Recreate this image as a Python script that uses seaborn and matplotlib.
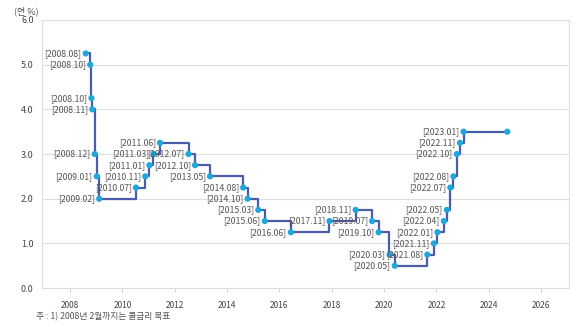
import matplotlib
matplotlib.use("Agg")
import matplotlib.pyplot as plt
import seaborn as sns
import pandas as pd
import numpy as np

# Data: Bank of Korea base rate decisions
dates = ["2008-08-07", "2008-10-09", "2008-10-27", "2008-11-07", "2008-12-11",
         "2009-01-09", "2009-02-12", "2010-07-09", "2010-11-16", "2011-01-13",
         "2011-03-10", "2011-06-10", "2012-07-12", "2012-10-11", "2013-05-09",
         "2014-08-14", "2014-10-15", "2015-03-12", "2015-06-11", "2016-06-09",
         "2017-11-30", "2018-11-30", "2019-07-18", "2019-10-16", "2020-03-16",
         "2020-05-28", "2021-08-26", "2021-11-25", "2022-01-14", "2022-04-14",
         "2022-05-26", "2022-07-13", "2022-08-25", "2022-10-12", "2022-11-24",
         "2023-01-13", "2024-09-15"]
rates = [5.25, 5.00, 4.25, 4.00, 3.00, 2.50, 2.00, 2.25, 2.50, 2.75,
         3.00, 3.25, 3.00, 2.75, 2.50, 2.25, 2.00, 1.75, 1.50, 1.25,
         1.50, 1.75, 1.50, 1.25, 0.75, 0.50, 0.75, 1.00, 1.25, 1.50,
         1.75, 2.25, 2.50, 3.00, 3.25, 3.50, 3.50]
point_labels = ["[2008.08]", "[2008.10]", "[2008.10]", "[2008.11]", "[2008.12]",
                "[2009.01]", "[2009.02]", "[2010.07]", "[2010.11]", "[2011.01]",
                "[2011.03]", "[2011.06]", "[2012.07]", "[2012.10]", "[2013.05]",
                "[2014.08]", "[2014.10]", "[2015.03]", "[2015.06]", "[2016.06]",
                "[2017.11]", "[2018.11]", "[2019.07]", "[2019.10]", "[2020.03]",
                "[2020.05]", "[2021.08]", "[2021.11]", "[2022.01]", "[2022.04]",
                "[2022.05]", "[2022.07]", "[2022.08]", "[2022.10]", "[2022.11]",
                "[2023.01]", ""]
y_ticks = [0.0, 1.0, 2.0, 3.0, 4.0, 5.0, 6.0]
x_ticks = [2008, 2010, 2012, 2014, 2016, 2018, 2020, 2022, 2024, 2026]

def to_year(s):
    t = pd.Timestamp(s)
    start = pd.Timestamp(year=t.year, month=1, day=1)
    end = pd.Timestamp(year=t.year + 1, month=1, day=1)
    return t.year + (t - start) / (end - start)

df = pd.DataFrame({"year": [to_year(d) for d in dates], "rate": rates,
                   "label": point_labels})

sns.set_theme(style="white")
plt.rcParams['font.family'] = ['Noto Sans CJK KR', 'DejaVu Sans']

fig = plt.figure(figsize=(5.8, 3.27), dpi=100)
ax = fig.add_axes([0.0724, 0.119, 0.909, 0.820])

line_color = "#4b5cab"
dot_color = "#1fa6dc"
sns.lineplot(data=df, x="year", y="rate", ax=ax, color=line_color,
             drawstyle="steps-post", linewidth=1.6, zorder=2)
sns.scatterplot(data=df, x="year", y="rate", ax=ax, color=dot_color,
                s=20, edgecolor="none", zorder=3)

for _, r in df.iterrows():
    if r["label"]:
        ax.annotate(r["label"], (r["year"], r["rate"]), xytext=(-3, 0),
                    textcoords="offset points", ha="right", va="center",
                    fontsize=6.3, color="#555555", zorder=4)

ax.set_xlim(2006.93, 2027.07)
ax.set_ylim(0, 6.0)
ax.set_yticks(y_ticks)
ax.set_yticklabels([f"{v:.1f}" for v in y_ticks])
ax.set_xticks(x_ticks)
ax.set_xticklabels([str(v) for v in x_ticks])
ax.tick_params(axis="y", labelsize=6.5, colors="#444444", length=0, pad=6)
ax.tick_params(axis="x", labelsize=6, colors="#444444", length=3,
               width=0.6, color="#cccccc", bottom=True, pad=6)
ax.yaxis.grid(True, color="#dddddd", linewidth=0.8)
ax.xaxis.grid(False)
ax.set_xlabel("")
ax.set_ylabel("")
for side in ["left", "right", "bottom"]:
    ax.spines[side].set_visible(True)
    ax.spines[side].set_color("#dddddd")
    ax.spines[side].set_linewidth(0.8)
ax.spines["top"].set_visible(False)

fig.text(0.025, 0.965, "(연 %)", fontsize=6.5, color="#555555", ha="left", va="center")
fig.text(0.062, 0.018, "주 : 1) 2008년 2월까지는 콜금리 목표", fontsize=6.3,
         color="#555555", ha="left", va="bottom")

fig.savefig("out.png", dpi=100)
